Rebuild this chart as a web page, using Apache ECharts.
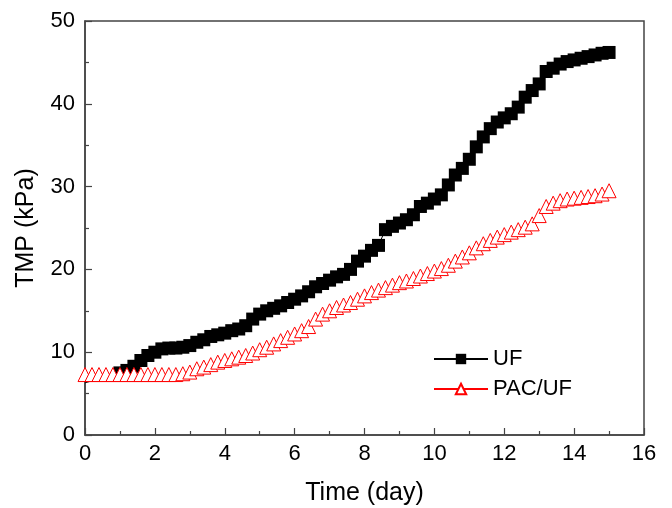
<!DOCTYPE html>
<html>
<head>
<meta charset="utf-8">
<script src="https://cdn.jsdelivr.net/npm/echarts@6/dist/echarts.min.js"></script>
<style>
html,body{margin:0;padding:0;background:#fff;}
#chart{width:672px;height:508px;}
</style>
</head>
<body>
<div id="chart"></div>
<script>
// UF: line starts at day 0, markers from day 1
var ufTime = [0, 1.0, 1.2, 1.4, 1.6, 1.8, 2.0, 2.2, 2.4, 2.6, 2.8, 3.0, 3.2, 3.4, 3.6, 3.8,
  4.0, 4.2, 4.4, 4.6, 4.8, 5.0, 5.2, 5.4, 5.6, 5.8, 6.0, 6.2, 6.4, 6.6, 6.8,
  7.0, 7.2, 7.4, 7.6, 7.8, 8.0, 8.2, 8.4, 8.6, 8.8, 9.0, 9.2, 9.4, 9.6, 9.8,
  10.0, 10.2, 10.4, 10.6, 10.8, 11.0, 11.2, 11.4, 11.6, 11.8, 12.0, 12.2, 12.4, 12.6, 12.8,
  13.0, 13.2, 13.4, 13.6, 13.8, 14.0, 14.2, 14.4, 14.6, 14.8, 15.0];
var ufTmp = [6.3, 7.5, 7.8, 8.3, 9.0, 9.6, 10.0, 10.4, 10.5, 10.5, 10.6, 10.8, 11.2, 11.5, 11.9, 12.1,
  12.3, 12.6, 12.8, 13.2, 14.0, 14.6, 15.0, 15.3, 15.6, 16.0, 16.4, 16.8, 17.3, 17.9, 18.3,
  18.7, 19.1, 19.4, 20.0, 21.0, 21.6, 22.3, 22.9, 24.8, 25.2, 25.6, 26.0, 26.6, 27.6, 28.0,
  28.5, 29.0, 30.2, 31.4, 32.2, 33.3, 34.8, 36.0, 37.0, 37.8, 38.3, 38.8, 39.6, 40.8, 41.6,
  42.4, 43.9, 44.3, 44.8, 45.1, 45.3, 45.5, 45.7, 45.9, 46.1, 46.2];

var pacTime = [0, 0.2, 0.4, 0.6, 0.8, 1.0, 1.2, 1.4, 1.6, 1.8, 2.0, 2.2, 2.4, 2.6, 2.8,
  3.0, 3.2, 3.4, 3.6, 3.8, 4.0, 4.2, 4.4, 4.6, 4.8, 5.0, 5.2, 5.4, 5.6, 5.8,
  6.0, 6.2, 6.4, 6.6, 6.8, 7.0, 7.2, 7.4, 7.6, 7.8, 8.0, 8.2, 8.4, 8.6, 8.8,
  9.0, 9.2, 9.4, 9.6, 9.8, 10.0, 10.2, 10.4, 10.6, 10.8, 11.0, 11.2, 11.4, 11.6, 11.8,
  12.0, 12.2, 12.4, 12.6, 12.8, 13.0, 13.2, 13.4, 13.6, 13.8, 14.0, 14.2, 14.4, 14.6, 14.8, 15.0];
var pacTmp = [7.3, 7.3, 7.3, 7.3, 7.3, 7.3, 7.3, 7.3, 7.3, 7.3, 7.3, 7.3, 7.3, 7.3, 7.4,
  7.6, 8.0, 8.2, 8.5, 8.8, 9.0, 9.2, 9.4, 9.6, 9.9, 10.3, 10.6, 11.0, 11.4, 11.8,
  12.2, 12.6, 13.1, 14.0, 14.6, 15.0, 15.4, 15.7, 16.0, 16.4, 16.8, 17.2, 17.5, 17.8, 18.1,
  18.4, 18.6, 18.9, 19.2, 19.5, 19.8, 20.1, 20.5, 21.0, 21.5, 22.0, 22.6, 23.1, 23.5, 23.9,
  24.2, 24.5, 24.8, 25.1, 25.5, 26.5, 27.6, 28.0, 28.3, 28.5, 28.6, 28.7, 28.8, 28.9, 29.1, 29.5];

function pairs(xs, ys) {
  return xs.map(function (x, i) { return [x, ys[i]]; });
}

var ufData = pairs(ufTime, ufTmp);
ufData[0] = { value: ufData[0], symbol: 'none' };

var font = 'Liberation Sans, Arial, sans-serif';
var chart = echarts.init(document.getElementById('chart'));
chart.setOption({
  animation: false,
  backgroundColor: '#fff',
  grid: {
    left: 85, top: 21, right: 28, bottom: 73,
    outerBoundsMode: 'none',
    show: true, borderColor: '#444', borderWidth: 1.5
  },
  legend: {
    left: 428, top: 343,
    orient: 'vertical',
    itemWidth: 54, itemHeight: 13, itemGap: 8,
    textStyle: { fontFamily: font, fontSize: 22, color: '#000' },
    data: ['UF', 'PAC/UF']
  },
  xAxis: {
    type: 'value', min: 0, max: 16, interval: 2,
    name: 'Time (day)', nameLocation: 'middle', nameGap: 46,
    nameTextStyle: { fontFamily: font, fontSize: 25, color: '#000' },
    axisLine: { lineStyle: { color: '#444', width: 1.5 } },
    axisTick: { inside: true, length: 7, lineStyle: { color: '#444', width: 1.2 } },
    minorTick: { show: true, splitNumber: 2, length: 4, lineStyle: { color: '#444', width: 1.2 } },
    axisLabel: { fontFamily: font, fontSize: 22, color: '#000', margin: 8 },
    splitLine: { show: false }
  },
  yAxis: {
    type: 'value', min: 0, max: 50, interval: 10,
    name: 'TMP (kPa)', nameLocation: 'middle', nameGap: 46,
    nameTextStyle: { fontFamily: font, fontSize: 25, color: '#000' },
    axisLine: { show: true, lineStyle: { color: '#444', width: 1.5 } },
    axisTick: { show: true, inside: true, length: 7, lineStyle: { color: '#444', width: 1.2 } },
    minorTick: { show: true, splitNumber: 2, length: 4, lineStyle: { color: '#444', width: 1.2 } },
    axisLabel: { fontFamily: font, fontSize: 22, color: '#000', margin: 10 },
    splitLine: { show: false }
  },
  series: [
    {
      name: 'UF',
      type: 'line',
      data: ufData,
      symbol: 'rect',
      symbolSize: 13,
      itemStyle: { color: '#000' },
      lineStyle: { color: '#000', width: 1 }
    },
    {
      name: 'PAC/UF',
      type: 'line',
      data: pairs(pacTime, pacTmp),
      symbol: 'triangle',
      symbolSize: 14,
      itemStyle: { color: '#fff', borderColor: '#ff0000', borderWidth: 1 },
      lineStyle: { color: '#ff0000', width: 1 }
    }
  ]
});
</script>
</body>
</html>
